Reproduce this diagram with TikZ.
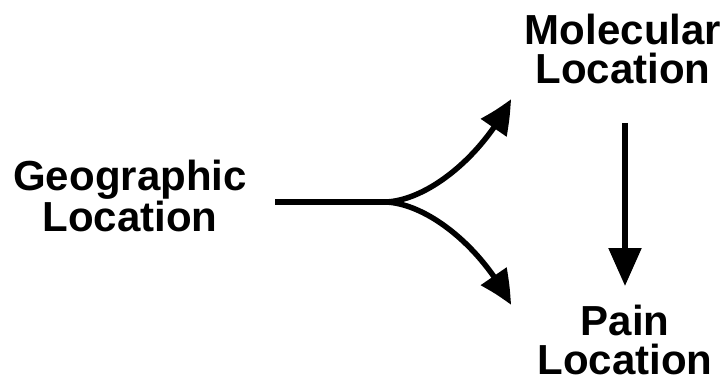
\documentclass[tikz,border=0pt]{standalone}
\usepackage{fontspec}
\setmainfont{Liberation Sans}
\usetikzlibrary{arrows.meta,bending}
\begin{document}
\begin{tikzpicture}[x=1pt,y=-1pt,
  lbl/.style={font=\fontsize{42}{39}\selectfont\bfseries, align=center, anchor=base, inner sep=0pt},
  conn/.style={line width=5.5pt, -{Triangle[length=34pt,width=30pt,bend]}},
  vconn/.style={line width=5.5pt, -{Triangle[length=38pt,width=32pt]}}]
\useasboundingbox (0,0) rectangle (725,385);
\node[lbl] (geo) at (130,231) {Geographic\\Location};
\node[lbl] (mol) at (623,84) {Molecular\\Location};
\node[lbl] (pain) at (625,374) {Pain\\Location};
\coordinate (start) at (275,202);
\coordinate (split) at (385,202);
\coordinate (tipup) at (511,99);
\coordinate (tipdown) at (511,305);
\coordinate (vtop) at (625,123);
\coordinate (vtip) at (625,286);
\draw[line width=5.5pt] (start) -- (split);
\draw[conn] (split) .. controls (425,201) and (480,160) .. (tipup);
\draw[conn] (split) .. controls (425,203) and (480,244) .. (tipdown);
\draw[vconn] (vtop) -- (vtip);
\end{tikzpicture}
\end{document}
